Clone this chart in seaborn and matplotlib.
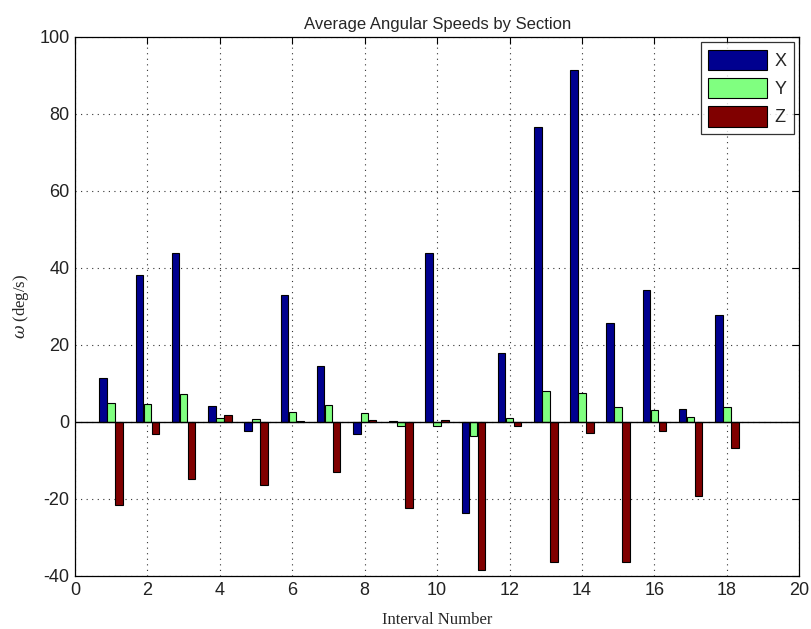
import matplotlib
matplotlib.use("Agg")
import matplotlib.pyplot as plt
import seaborn as sns
import pandas as pd
import numpy as np

intervals = list(range(1, 19))
x_vals = [11.3, 38.1, 43.8, 4.1, -2.3, 33.0, 14.5, -3.0, 0.3, 44.0, -23.6, 17.8, 76.7, 91.5, 25.6, 34.4, 3.4, 27.7]
y_vals = [4.8, 4.6, 7.3, 1.0, 0.7, 2.7, 4.3, 2.2, -1.0, -1.0, -3.7, 1.0, 8.1, 7.5, 3.9, 3.0, 1.2, 3.9]
z_vals = [-21.6, -3.0, -14.9, 1.9, -16.4, 0.3, -13.1, 0.6, -22.4, 0.5, -38.4, -1.0, -36.5, -2.9, -36.3, -2.3, -19.1, -6.8]
series = ["X", "Y", "Z"]
colors = ["#00008F", "#80FF80", "#800000"]

df = pd.DataFrame({
    "interval": intervals * 3,
    "value": x_vals + y_vals + z_vals,
    "axis": [s for s in series for _ in intervals],
})

sns.set_style("white")
plt.rcParams["font.family"] = ["Liberation Sans", "DejaVu Sans"]
plt.rcParams["mathtext.fontset"] = "dejavuserif"
plt.rcParams["axes.unicode_minus"] = False

fig = plt.figure(figsize=(8.11, 6.29), dpi=100)
ax = fig.add_axes([0.0925, 0.0843, 0.893, 0.857])

sns.barplot(data=df, x="interval", y="value", hue="axis", palette=colors,
            saturation=1, native_scale=True, width=0.66, gap=0.05, dodge=True,
            edgecolor="black", linewidth=0.8, errorbar=None, ax=ax, zorder=3)

ax.axhline(0, color="black", lw=1.0, zorder=4)
ax.set_xlim(0, 20)
ax.set_ylim(-40, 100)
ax.set_xticks(np.arange(0, 21, 2))
ax.set_yticks(np.arange(-40, 101, 20))
ax.grid(True, linestyle=(0, (1, 4)), color="#333333", linewidth=0.8, zorder=0)
ax.set_axisbelow(True)
ax.tick_params(direction="in", top=True, right=True, labelsize=13, length=5,
               width=0.8, color="black", labelcolor="#222222", pad=4)
for s in ax.spines.values():
    s.set_color("black")
    s.set_linewidth(0.9)

ax.set_title("Average Angular Speeds by Section", fontsize=12, pad=6)
ax.set_xlabel("Interval Number", fontsize=12, family=["Liberation Serif"], labelpad=10)
ax.set_ylabel(r"$\omega$ (deg/s)", fontsize=12, family=["Liberation Serif"], labelpad=6)

leg = ax.legend(loc="upper right", frameon=True, fancybox=False, fontsize=13,
                handlelength=3.3, handleheight=1.4, borderpad=0.4, labelspacing=0.4,
                handletextpad=0.4, borderaxespad=0.3)
leg.get_frame().set_edgecolor("black")
leg.get_frame().set_linewidth(0.9)
leg.set_title(None)

fig.savefig("out.png", dpi=100)
